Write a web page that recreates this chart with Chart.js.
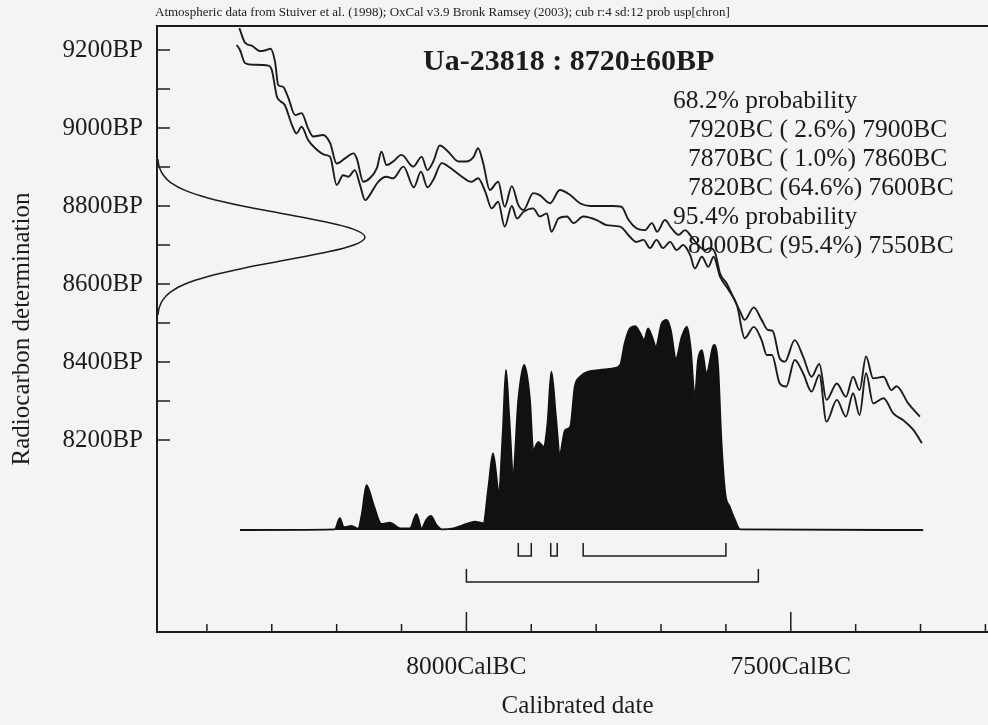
<!DOCTYPE html>
<html><head><meta charset="utf-8">
<script src="https://cdn.jsdelivr.net/npm/chart.js@4/dist/chart.umd.min.js"></script>
<style>
html,body{margin:0;padding:0;background:#f4f4f2;overflow:hidden;}
#wrap{position:relative;width:1000px;height:725px;}
canvas{display:block;}
</style></head><body>
<div id="wrap"><canvas id="c" width="1000" height="725" style="width:1000px;height:725px"></canvas></div>
<script>
// ---- data ----
const headerText = 'Atmospheric data from Stuiver et al. (1998); OxCal v3.9 Bronk Ramsey (2003); cub r:4 sd:12 prob usp[chron]';
const sampleName = 'Ua-23818';
const c14Age = 8720;
const c14Err = 60;

// calibration curve, upper line (cal BC, BP)
const upperYears = [8350,8341,8331,8318,8308,8302,8295,8290,8283,8275,8264,8254,8244,8236,8221,8210,8200,8187,8174,8169,8159,8149,8138,8131,8123,8113,8100,8082,8069,8060,8051,8041,8028,8012,8000,7989,7982,7974,7964,7951,7941,7930,7920,7912,7897,7887,7871,7856,7840,7825,7809,7774,7761,7750,7738,7725,7714,7706,7694,7684,7673,7663,7653,7643,7632,7625,7617,7609,7599,7589,7578,7571,7557,7545,7535,7528,7517,7509,7494,7481,7468,7456,7445,7429,7415,7404,7394,7384,7373,7357,7345,7337,7319,7301];
const upperBP = [9256,9218,9211,9197,9200,9203,9170,9110,9106,9080,9033,9038,8999,8978,8982,8961,8909,8922,8935,8922,8862,8871,8897,8939,8905,8914,8931,8901,8926,8892,8914,8955,8939,8914,8914,8926,8948,8909,8841,8862,8798,8851,8803,8790,8833,8828,8807,8841,8828,8807,8800,8800,8798,8764,8743,8738,8756,8734,8764,8743,8726,8738,8721,8700,8687,8692,8682,8627,8602,8567,8529,8508,8540,8508,8482,8480,8409,8401,8456,8414,8362,8395,8303,8345,8311,8362,8328,8414,8358,8362,8328,8338,8294,8260];
// calibration curve, lower line
const lowerYears = [8354,8349,8341,8328,8305,8300,8292,8287,8280,8269,8262,8254,8244,8233,8218,8210,8200,8190,8182,8172,8164,8156,8149,8136,8123,8113,8097,8081,8070,8060,8051,8038,8025,8010,7992,7982,7971,7961,7951,7941,7930,7922,7912,7897,7887,7876,7869,7858,7845,7835,7820,7799,7784,7763,7748,7738,7727,7717,7707,7697,7686,7676,7666,7655,7648,7637,7627,7619,7609,7596,7583,7571,7557,7545,7537,7529,7517,7507,7494,7481,7468,7456,7445,7429,7415,7404,7394,7384,7373,7357,7342,7327,7311,7298];
const lowerBP = [9213,9200,9166,9162,9160,9149,9080,9069,9059,9008,8986,9003,8969,8948,8931,8926,8854,8879,8875,8892,8854,8815,8828,8862,8875,8871,8901,8848,8888,8848,8867,8910,8898,8879,8862,8871,8837,8794,8811,8747,8800,8768,8785,8794,8773,8781,8734,8768,8773,8756,8773,8764,8751,8747,8721,8708,8713,8692,8713,8692,8708,8687,8700,8674,8640,8670,8644,8670,8619,8585,8546,8461,8490,8456,8418,8418,8345,8337,8405,8371,8324,8367,8247,8303,8260,8320,8264,8371,8294,8307,8268,8251,8226,8192];

// calibrated probability distribution (relative)
const distYears = [8349,8203,8195,8189,8177,8167,8161,8154,8143,8131,8118,8102,8087,8077,8069,8062,8055,8046,8038,8020,8000,7987,7974,7966,7959,7950,7944,7939,7934,7928,7920,7911,7902,7897,7889,7881,7875,7869,7862,7856,7848,7840,7833,7825,7812,7794,7774,7763,7756,7748,7740,7732,7726,7720,7713,7708,7699,7691,7685,7677,7668,7660,7654,7648,7643,7637,7630,7620,7618,7612,7607,7601,7594,7586,7578,7296];
const distProb = [0,0.003,0.056,0.013,0.019,0.006,0.079,0.214,0.119,0.029,0.035,0.008,0.008,0.076,0.008,0.048,0.067,0.024,0.003,0.008,0.029,0.040,0.032,0.206,0.365,0.190,0.460,0.762,0.540,0.277,0.619,0.786,0.619,0.381,0.420,0.397,0.508,0.754,0.540,0.365,0.476,0.492,0.682,0.730,0.754,0.762,0.770,0.786,0.889,0.960,0.971,0.937,0.905,0.960,0.913,0.873,0.984,1.000,0.952,0.817,0.921,0.968,0.857,0.635,0.810,0.857,0.746,0.873,0.881,0.778,0.429,0.175,0.111,0.048,0.003,0];

// radiocarbon measurement curve on the left (BP, relative height)
const gaussBP = [8920,8900,8880,8860,8840,8820,8800,8780,8760,8740,8720,8700,8680,8660,8640,8620,8600,8580,8560,8540,8520];
const gaussProb = [0.004,0.011,0.029,0.066,0.135,0.249,0.411,0.607,0.801,0.946,1.0,0.946,0.801,0.607,0.411,0.249,0.135,0.066,0.029,0.011,0.004];

// ranges
const level68 = '68.2';
const ranges68 = [[7920,7900],[7870,7860],[7820,7600]];
const probs68 = [2.6, 1.0, 64.6];
const level95 = '95.4';
const ranges95 = [[8000,7550]];
const probs95 = [95.4];

// axis ticks
const xTicks = [8400,8300,8200,8100,8000,7900,7800,7700,7600,7500,7400,7300,7200];
const xLabelled = [8000,7500];
const yTicks = [9200,9100,9000,8900,8800,8700,8600,8500,8400,8300,8200];
const yLabelled = [9200,9000,8800,8600,8400,8200];

// ---- styling ----
const FONT = '"Liberation Serif","Times New Roman",serif';
const INK = '#1c1c1c';
const BG = '#f4f4f2';
const LV68 = {top:-0.062, bot:-0.124};
const LV95 = {top:-0.186, bot:-0.248};

function pts(xs, ys){ return xs.map((x,i)=>({x:x, y:ys[i]})); }
function bracket(r, lv){ return [{x:r[0],y:lv.top},{x:r[0],y:lv.bot},{x:r[1],y:lv.bot},{x:r[1],y:lv.top}]; }
function pct(p){ const s = p.toFixed(1); return s.length < 4 ? ' ' + s : s; }

const lineDs = (data, extra) => Object.assign({
  type:'line', data, borderColor:INK, borderWidth:1.9, pointRadius:0, fill:false,
  xAxisID:'x', yAxisID:'y', tension:0
}, extra||{});

const datasets = [
  lineDs(pts(upperYears, upperBP), {cubicInterpolationMode:'monotone'}),
  lineDs(pts(lowerYears, lowerBP), {cubicInterpolationMode:'monotone'}),
  lineDs(pts(gaussProb, gaussBP), {xAxisID:'xp', borderWidth:1.5, tension:0.35}),
  lineDs(pts(distYears, distProb), {yAxisID:'yp', cubicInterpolationMode:'monotone', borderColor:'#111', backgroundColor:'#111', borderWidth:1.8, fill:{value:0}}),
];
ranges68.forEach(r => datasets.push(lineDs(bracket(r, LV68), {yAxisID:'yp', borderWidth:1.5})));
ranges95.forEach(r => datasets.push(lineDs(bracket(r, LV95), {yAxisID:'yp', borderWidth:1.5})));

const bgPlugin = {
  id:'bg',
  beforeDraw(chart){ const c=chart.ctx; c.save(); c.fillStyle=BG; c.fillRect(0,0,chart.width,chart.height); c.restore(); }
};
const framePlugin = {
  id:'frame',
  afterDatasetsDraw(chart){
    const c = chart.ctx, a = chart.chartArea, xs = chart.scales.x, ys = chart.scales.y;
    c.save();
    c.strokeStyle = INK; c.lineWidth = 2;
    c.beginPath();
    c.moveTo(a.right+5, a.top); c.lineTo(a.left, a.top); c.lineTo(a.left, a.bottom); c.lineTo(a.right+5, a.bottom);
    c.stroke();
    c.lineWidth = 1.5;
    xs.ticks.forEach(t => {
      const px = xs.getPixelForValue(t.value);
      const len = xLabelled.includes(t.value) ? 20 : 8;
      c.beginPath(); c.moveTo(px, a.bottom); c.lineTo(px, a.bottom - len); c.stroke();
    });
    ys.ticks.forEach(t => {
      const py = ys.getPixelForValue(t.value);
      c.beginPath(); c.moveTo(a.left, py); c.lineTo(a.left + 13, py); c.stroke();
    });
    c.restore();
  }
};
const textPlugin = {
  id:'txt',
  afterDraw(chart){
    const c = chart.ctx;
    c.save();
    c.fillStyle = INK; c.textAlign = 'left'; c.textBaseline = 'alphabetic';
    c.font = '13px ' + FONT;
    c.fillText(headerText, 155, 16, 598);
    c.font = 'bold 30px ' + FONT;
    c.fillText(sampleName + ' : ' + c14Age + '\u00b1' + c14Err + 'BP', 423, 70);
    c.font = '25.5px ' + FONT;
    const lines = [];
    lines.push([level68 + '% probability', 673]);
    ranges68.forEach((r,i) => lines.push([r[0] + 'BC (' + pct(probs68[i]) + '%) ' + r[1] + 'BC', 688]));
    lines.push([level95 + '% probability', 673]);
    ranges95.forEach((r,i) => lines.push([r[0] + 'BC (' + pct(probs95[i]) + '%) ' + r[1] + 'BC', 688]));
    lines.forEach((l,i) => c.fillText(l[0], l[1], 108 + i*29));
    c.restore();
  }
};

new Chart(document.getElementById('c'), {
  type:'line',
  data:{ datasets },
  options:{
    responsive:false, maintainAspectRatio:false, animation:false, devicePixelRatio:1,
    layout:{ padding:{ top:26, left:0, right:2, bottom:0 } },
    plugins:{ legend:{display:false}, tooltip:{enabled:false} },
    scales:{
      x:{
        type:'linear', position:'bottom', reverse:true, min:7180.6, max:8476.9,
        grid:{display:false, drawTicks:false}, border:{display:false},
        afterFit(s){ s.height = 93; s.paddingLeft = 0; s.paddingRight = 0; },
        afterBuildTicks(s){ s.ticks = xTicks.map(v => ({value:v})); },
        ticks:{ autoSkip:false, maxRotation:0, padding:20, color:INK,
          font:{family:FONT, size:25.5},
          callback:(v) => xLabelled.includes(v) ? v + 'CalBC' : '' },
        title:{ display:true, text:'Calibrated date', color:INK, font:{family:FONT, size:25}, padding:{top:0, bottom:4} }
      },
      y:{
        type:'linear', position:'left', min:7707.7, max:9261.5,
        grid:{display:false, drawTicks:false}, border:{display:false},
        afterFit(s){ s.width = 157; s.paddingTop = 0; s.paddingBottom = 0; },
        afterBuildTicks(s){ s.ticks = yTicks.map(v => ({value:v})); },
        ticks:{ autoSkip:false, padding:14, color:INK,
          font:{family:FONT, size:25},
          callback:(v) => yLabelled.includes(v) ? v + 'BP' : '' },
        title:{ display:true, text:'Radiocarbon determination', color:INK, font:{family:FONT, size:25}, padding:{top:7, bottom:0} }
      },
      xp:{ type:'linear', display:false, min:0, max:4.043 },
      yp:{ type:'linear', display:false, min:-0.4857, max:2.4 }
    }
  },
  plugins:[bgPlugin, framePlugin, textPlugin]
});
</script>
</body></html>
